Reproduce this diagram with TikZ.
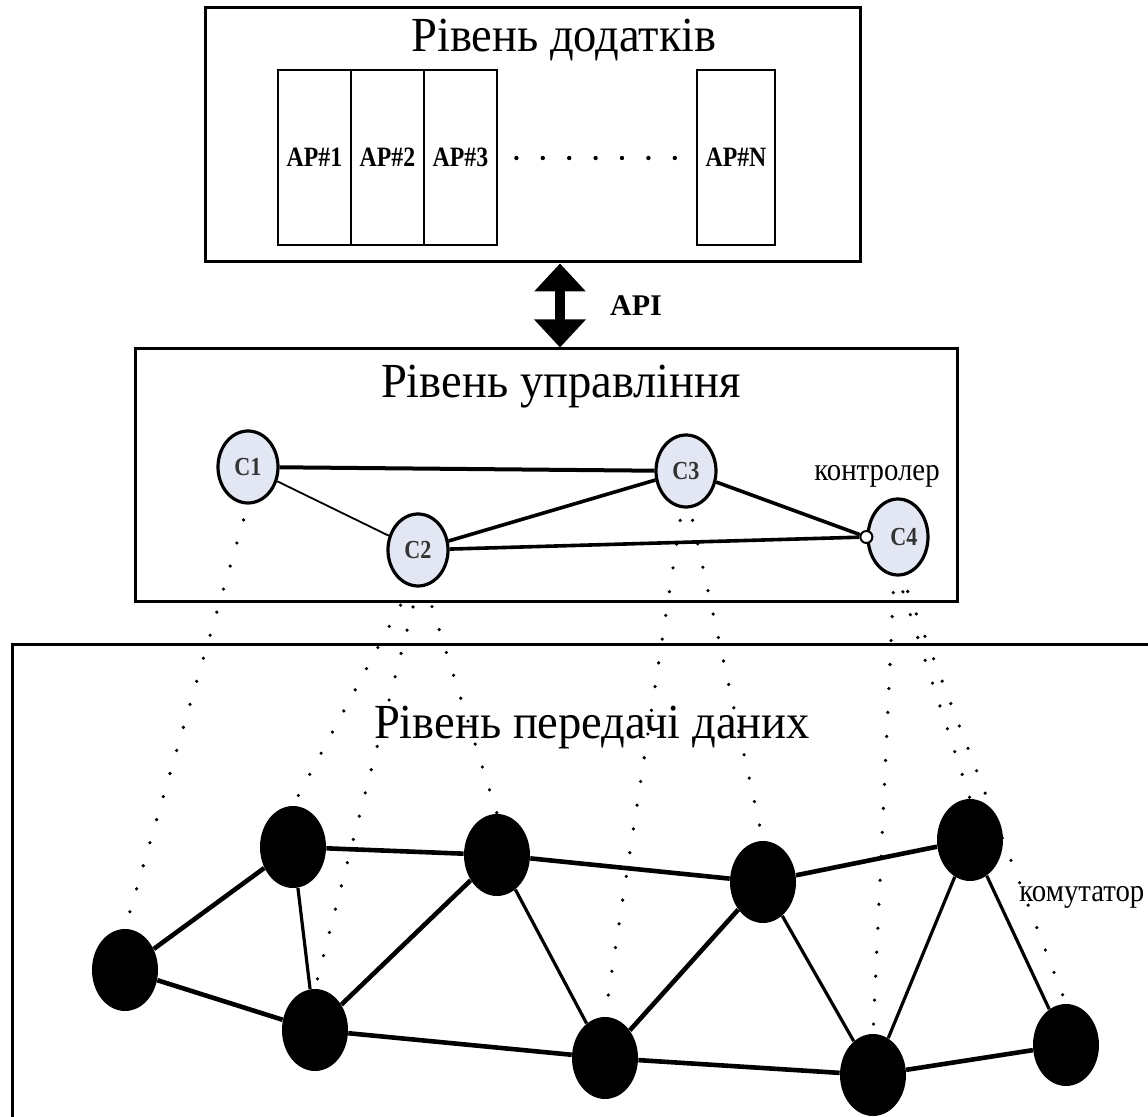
\documentclass[tikz,border=0pt]{standalone}
\usepackage{fontspec}
\setmainfont{Liberation Serif}
\usetikzlibrary{shapes.geometric,arrows.meta}
\definecolor{ctrlfill}{HTML}{E3E7F3}
\begin{document}
\begin{tikzpicture}[x=0.5pt,y=-0.5pt,
  layerbox/.style={draw,line width=1.5pt,inner sep=0pt,rectangle},
  title/.style={font=\fontsize{24.5}{28}\selectfont,inner sep=0pt,xscale=0.95},
  apbox/.style={draw,line width=1.4pt,inner sep=0pt,minimum height=87.5pt,minimum width=36.5pt},
  aptext/.style={font=\bfseries\fontsize{14}{16}\selectfont,inner sep=0pt,xscale=0.85},
  ctrl/.style={ellipse,draw,line width=1.6pt,fill=ctrlfill,minimum width=30pt,minimum height=36pt,inner sep=0pt},
  ctrltext/.style={font=\bfseries\fontsize{13}{15}\selectfont,inner sep=0pt,xscale=0.85,text=black!80},
  sw/.style={ellipse,fill=black,minimum width=33pt,minimum height=41pt,inner sep=0pt},
  biglink/.style={line width=2.3pt},
  midlink/.style={line width=1.6pt},
  thinlink/.style={line width=0.9pt},
  dotlink/.style={line width=1.8pt,line cap=round,dash pattern=on 0pt off 12pt},
  lbl/.style={font=\fontsize{16}{18}\selectfont,inner sep=0pt,xscale=0.9}]
\useasboundingbox (0,0) rectangle (1148,1117);
\begin{scope}
\clip (0,0) rectangle (1148,1117);

% application layer
\node[layerbox,minimum width=327.5pt,minimum height=127pt] (top) at (532.5,135) {};
\node[title] (toptitle) at (564,40) {Рівень додатків};
\node[apbox] (ap1) at (314.5,157.5) {};
\node[apbox] (ap2) at (387.5,157.5) {};
\node[apbox] (ap3) at (460.5,157.5) {};
\node[apbox,minimum width=39pt] (apn) at (736,157.5) {};
\node[aptext] (ap1t) at (ap1) {AP\#1};
\node[aptext] (ap2t) at (ap2) {AP\#2};
\node[aptext] (ap3t) at (ap3) {AP\#3};
\node[aptext] (apnt) at (apn) {AP\#N};
\coordinate (dotrow) at (600,158);
\draw[line width=2.2pt,line cap=round,dash pattern=on 0pt off 13.2pt] ([xshift=9pt]ap3.east |- dotrow) -- ([xshift=-5pt]apn.west |- dotrow);

% control layer
\node[layerbox,minimum width=411pt,minimum height=126.5pt] (mid) at (546,475.5) {};
\node[title] (midtitle) at (561,387) {Рівень управління};

% API arrow
\coordinate (apx) at (560,300);
\draw[line width=5pt,{Triangle[width=25pt,length=14pt]}-{Triangle[width=25pt,length=14pt]}] (apx |- top.south) -- (apx |- mid.north);
\node[font=\bfseries\fontsize{15}{17}\selectfont,inner sep=0pt] (api) at (636,306) {API};

\node[ctrl] (c1) at (248,467) {};
\node[ctrl] (c2) at (418,550) {};
\node[ctrl] (c3) at (686,471) {};
\node[ctrl,minimum height=38pt] (c4) at (898,537) {};
\node[ctrltext] (c1t) at (c1) {C1};
\node[ctrltext] (c2t) at (c2) {C2};
\node[ctrltext] (c3t) at (c3) {C3};
\node[ctrltext] (c4t) at ([xshift=3pt]c4.center) {C4};
\node[circle,draw,fill=white,line width=1pt,minimum size=6pt,inner sep=0pt] (c4p) at (c4.west) {};
\node[lbl] (ctrllbl) at (877,476) {контролер};

\draw[line width=2pt] (c1) -- (c3);
\draw[thinlink] (c1) -- (c2);
\draw[line width=1.8pt] (c2) -- (c3);
\draw[line width=1.8pt] (c2) -- (c4p);
\draw[line width=1.8pt] (c3) -- (c4p);

% data layer
\draw[line width=1.5pt] (12,1130) -- (12,645) -- (1160,645);
\node[title] (bottitle) at (592,727) {Рівень передачі даних};

\node[sw] (a) at (125,970) {};
\node[sw] (b) at (293,847) {};
\node[sw] (c) at (315,1030) {};
\node[sw] (d) at (497,855) {};
\node[sw] (e) at (605,1058) {};
\node[sw] (f) at (763,882) {};
\node[sw] (g) at (873,1075) {};
\node[sw] (h) at (970,840) {};
\node[sw] (i) at (1066,1045) {};
\node[lbl,anchor=west] (swlbl) at (1019,897) {комутатор};

\draw[biglink] (a) -- (b);
\draw[biglink] (a) -- (c);
\draw[midlink] (b) -- (c);
\draw[biglink] (b) -- (d);
\draw[biglink] (c) -- (d);
\draw[biglink] (c) -- (e);
\draw[midlink] (d) -- (e);
\draw[biglink] (d) -- (f);
\draw[biglink] (e) -- (f);
\draw[biglink] (e) -- (g);
\draw[midlink] (f) -- (g);
\draw[biglink] (f) -- (h);
\draw[midlink] (g) -- (h);
\draw[biglink] (g) -- (i);
\draw[midlink] (h) -- (i);

% dotted control links
\draw[dotlink,shorten <=8pt] (c1.south) -- (a.north);
\draw[dotlink,shorten <=10pt] ([xshift=-4pt]c2.south) -- (b.north);
\draw[dotlink,shorten <=10pt] (c2.south) -- (c.north);
\draw[dotlink,shorten <=10pt] ([xshift=4pt]c2.south) -- (d.north);
\draw[dotlink,shorten <=6pt] ([xshift=-2pt]c3.south) -- (e.north);
\draw[dotlink,shorten <=6pt] ([xshift=2pt]c3.south) -- (f.north);
\draw[dotlink,shorten <=8pt] ([xshift=-2pt]c4.south) -- (g.north);
\draw[dotlink,shorten <=8pt] (c4.south) -- (h.north);
\draw[dotlink,shorten <=8pt] ([xshift=2pt]c4.south) -- (i.north);
\end{scope}
\end{tikzpicture}
\end{document}
